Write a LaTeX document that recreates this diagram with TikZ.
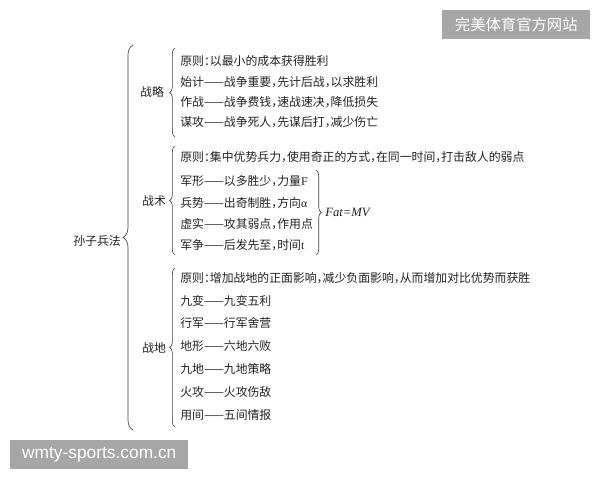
\documentclass[tikz,border=0pt]{standalone}
\usepackage{fontspec}
\setmainfont{Noto Sans CJK SC}[RawFeature=+halt]
\newfontfamily\latserif{Liberation Serif}
\newfontfamily\wmsans{Liberation Sans}
\newfontfamily\wmcjk{Noto Sans CJK SC}
\usetikzlibrary{decorations.pathreplacing}
\definecolor{ink}{HTML}{222222}
\definecolor{wmgray}{HTML}{A6A6A6}
\begin{document}
\begin{tikzpicture}[x=0.75pt,y=-0.75pt,
  txt/.style={anchor=west,inner sep=0pt,text=ink,font=\fontsize{8.9}{10}\selectfont},
  cat/.style={anchor=center,inner sep=0pt,text=ink,font=\fontsize{8.9}{10}\selectfont},
  br/.style={decorate,decoration={brace,amplitude=#1},draw=ink!85,line width=0.5pt},
  wmbox/.style={fill=wmgray,text=white,inner sep=0pt,anchor=north west}
]
\useasboundingbox (0,0) rectangle (600,480);
\fill[white] (0,0) rectangle (600,480);

% root
\node[cat] (root) at (97,241) {孙子兵法};
\coordinate (rb) at (133,430);
\coordinate (rt) at (133,45);
\draw[br=7.5pt] (rb) -- (rt);

% categories
\node[cat] (c1) at (152,92) {战略};
\node[cat] (c2) at (154,201) {战术};
\node[cat] (c3) at (154,348) {战地};

\coordinate (b1b) at (175,137);
\coordinate (b1t) at (175,48);
\coordinate (b2b) at (175,255);
\coordinate (b2t) at (175,146);
\coordinate (b3b) at (175,427);
\coordinate (b3t) at (175,268);
\draw[br=4pt] (b1b) -- (b1t);
\draw[br=4pt] (b2b) -- (b2t);
\draw[br=4pt] (b3b) -- (b3t);

% strategy rows
\node[txt] (s1) at (180,61) {原则：以最小的成本获得胜利};
\node[txt] (s2) at (180,82) {始计——战争重要，先计后战，以求胜利};
\node[txt] (s3) at (180,102) {作战——战争费钱，速战速决，降低损失};
\node[txt] (s4) at (180,122) {谋攻——战争死人，先谋后打，减少伤亡};

% tactics rows
\node[txt] (t1) at (180,157) {原则：集中优势兵力，使用奇正的方式，在同一时间，打击敌人的弱点};
\node[txt] (t2) at (180,181) {军形——以多胜少，力量{\latserif F}};
\node[txt] (t3) at (180,203) {兵势——出奇制胜，方向{\latserif α}};
\node[txt] (t4) at (180,224) {虚实——攻其弱点，作用点};
\node[txt] (t5) at (180,245) {军争——后发先至，时间{\latserif t}};

\coordinate (fbt) at (316,170);
\coordinate (fbb) at (316,255);
\draw[br=4pt] (fbt) -- (fbb);
\node[anchor=west,inner sep=0pt,text=ink,font=\latserif\itshape\fontsize{9.5}{10}\selectfont] (fml) at (325,212) {Fat=MV};

% terrain rows
\node[txt] (d1) at (180,278) {原则：增加战地的正面影响，减少负面影响，从而增加对比优势而获胜};
\node[txt] (d2) at (180,301) {九变——九变五利};
\node[txt] (d3) at (180,323) {行军——行军舍营};
\node[txt] (d4) at (180,346) {地形——六地六败};
\node[txt] (d5) at (180,369) {九地——九地策略};
\node[txt] (d6) at (180,392) {火攻——火攻伤敌};
\node[txt] (d7) at (180,415) {用间——五间情报};

% watermarks
\node[wmbox,minimum width=148*0.75pt,minimum height=29*0.75pt,font=\wmcjk\fontsize{11.5}{12}\selectfont] (wm1) at (442,10) {完美体育官方网站};
\node[wmbox,minimum width=178*0.75pt,minimum height=29*0.75pt,font=\wmsans\fontsize{13}{14}\selectfont] (wm2) at (10,440) {wmty-sports.com.cn};
\end{tikzpicture}
\end{document}
